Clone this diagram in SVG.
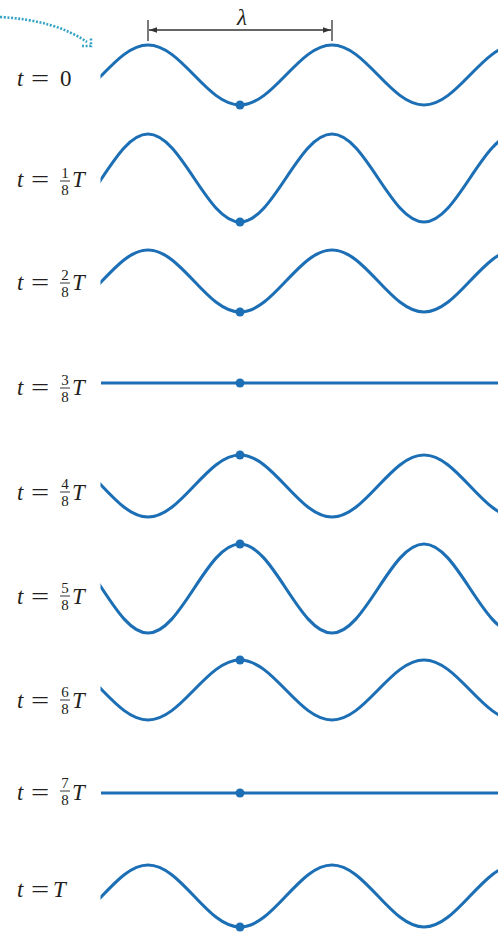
<svg xmlns="http://www.w3.org/2000/svg" width="498" height="933" viewBox="0 0 498 933">
<style>
.w{fill:none;stroke:#1c6fb5;stroke-width:3.1;stroke-linejoin:round}
.d{fill:#1c6fb5}
.lab{font-family:"Liberation Serif","DejaVu Serif",serif;font-size:23px;fill:#231f20}
.it{font-style:italic}
.eq{font-family:"Liberation Serif","DejaVu Serif",serif;font-size:23px;fill:#231f20}
.fr{font-family:"Liberation Serif","DejaVu Serif",serif;font-size:15px;fill:#231f20;text-anchor:middle}
.bar{stroke:#231f20;stroke-width:0.9}
.dim{stroke:#333;stroke-width:1.3;fill:none}
</style>
<defs>
<clipPath id="cw"><rect x="100.5" y="0" width="400" height="933"/></clipPath>
<marker id="ah" viewBox="0 0 10 10" refX="10" refY="5" markerWidth="8" markerHeight="8" orient="auto-start-reverse" markerUnits="userSpaceOnUse"><path d="M0,1.5 L10,5 L0,8.5 z" fill="#333"/></marker>
</defs>

<g id="arrow-in">
<path d="M0,17 Q55,20 87,42" fill="none" stroke="#35a3c4" stroke-width="2.6" stroke-dasharray="2 1.6"/>
<polyline points="82,46 91,46 91,37" fill="none" stroke="#35a3c4" stroke-width="2.6" stroke-dasharray="2 1.6"/>
</g>

<g id="lambda">
<line class="dim" x1="148" y1="20" x2="148" y2="41"/>
<line class="dim" x1="332" y1="20" x2="332" y2="41"/>
<line class="dim" x1="149" y1="30" x2="331" y2="30" marker-start="url(#ah)" marker-end="url(#ah)"/>
<text x="242" y="25" class="lab it" text-anchor="middle" font-size="22">λ</text>
</g>

<g id="waves" clip-path="url(#cw)">
<g id="w0"><path class="w" d="M56,105 C89.4,105 114.6,45 148,45 S206.6,105 240,105 S298.6,45 332,45 S390.6,105 424,105 S482.6,45 516,45"/></g>
<g id="w1"><path class="w" d="M56,222 C89.4,222 114.6,134 148,134 S206.6,222 240,222 S298.6,134 332,134 S390.6,222 424,222 S482.6,134 516,134"/></g>
<g id="w2"><path class="w" d="M56,312 C89.4,312 114.6,250 148,250 S206.6,312 240,312 S298.6,250 332,250 S390.6,312 424,312 S482.6,250 516,250"/></g>
<g id="w3"><line class="w" x1="101" y1="383" x2="498" y2="383"/></g>
<g id="w4"><path class="w" d="M56,455 C89.4,455 114.6,517 148,517 S206.6,455 240,455 S298.6,517 332,517 S390.6,455 424,455 S482.6,517 516,517"/></g>
<g id="w5"><path class="w" d="M56,544 C89.4,544 114.6,633 148,633 S206.6,544 240,544 S298.6,633 332,633 S390.6,544 424,544 S482.6,633 516,633"/></g>
<g id="w6"><path class="w" d="M56,660 C89.4,660 114.6,720 148,720 S206.6,660 240,660 S298.6,720 332,720 S390.6,660 424,660 S482.6,720 516,720"/></g>
<g id="w7"><line class="w" x1="101" y1="793" x2="498" y2="793"/></g>
<g id="w8"><path class="w" d="M56,927 C89.4,927 114.6,865 148,865 S206.6,927 240,927 S298.6,865 332,865 S390.6,927 424,927 S482.6,865 516,865"/></g>
</g>

<g id="dots">
<circle class="d" cx="240" cy="105" r="4.5"/>
<circle class="d" cx="240" cy="222" r="4.5"/>
<circle class="d" cx="240" cy="312" r="4.5"/>
<circle class="d" cx="240" cy="383" r="4.5"/>
<circle class="d" cx="240" cy="455" r="4.5"/>
<circle class="d" cx="240" cy="544" r="4.5"/>
<circle class="d" cx="240" cy="660" r="4.5"/>
<circle class="d" cx="240" cy="793" r="4.5"/>
<circle class="d" cx="240" cy="927" r="4.5"/>
</g>

<g id="label-0">
<text class="lab it" x="17" y="86">t</text>
<text class="eq" transform="translate(31,86) scale(1.4,1)">=</text>
<text class="lab" x="60" y="86">0</text>
</g>
<g id="label-1">
<text class="lab it" x="17" y="187">t</text>
<text class="eq" transform="translate(31,187) scale(1.4,1)">=</text>
<text class="fr" x="65" y="178">1</text><line class="bar" x1="60" y1="181" x2="70" y2="181"/><text class="fr" x="65" y="195">8</text>
<text class="lab it" x="72" y="187">T</text>
</g>
<g id="label-2">
<text class="lab it" x="17" y="290">t</text>
<text class="eq" transform="translate(31,290) scale(1.4,1)">=</text>
<text class="fr" x="65" y="280">2</text><line class="bar" x1="60" y1="283" x2="70" y2="283"/><text class="fr" x="65" y="297">8</text>
<text class="lab it" x="72" y="290">T</text>
</g>
<g id="label-3">
<text class="lab it" x="17" y="395">t</text>
<text class="eq" transform="translate(31,395) scale(1.4,1)">=</text>
<text class="fr" x="65" y="385">3</text><line class="bar" x1="60" y1="388" x2="70" y2="388"/><text class="fr" x="65" y="402">8</text>
<text class="lab it" x="72" y="395">T</text>
</g>
<g id="label-4">
<text class="lab it" x="17" y="500">t</text>
<text class="eq" transform="translate(31,500) scale(1.4,1)">=</text>
<text class="fr" x="65" y="489">4</text><line class="bar" x1="60" y1="492" x2="70" y2="492"/><text class="fr" x="65" y="506">8</text>
<text class="lab it" x="72" y="500">T</text>
</g>
<g id="label-5">
<text class="lab it" x="17" y="604">t</text>
<text class="eq" transform="translate(31,604) scale(1.4,1)">=</text>
<text class="fr" x="65" y="593">5</text><line class="bar" x1="60" y1="596" x2="70" y2="596"/><text class="fr" x="65" y="610">8</text>
<text class="lab it" x="72" y="604">T</text>
</g>
<g id="label-6">
<text class="lab it" x="17" y="708">t</text>
<text class="eq" transform="translate(31,708) scale(1.4,1)">=</text>
<text class="fr" x="65" y="697">6</text><line class="bar" x1="60" y1="700" x2="70" y2="700"/><text class="fr" x="65" y="714">8</text>
<text class="lab it" x="72" y="708">T</text>
</g>
<g id="label-7">
<text class="lab it" x="17" y="800">t</text>
<text class="eq" transform="translate(31,800) scale(1.4,1)">=</text>
<text class="fr" x="65" y="788">7</text><line class="bar" x1="60" y1="791" x2="70" y2="791"/><text class="fr" x="65" y="805">8</text>
<text class="lab it" x="72" y="800">T</text>
</g>
<g id="label-8">
<text class="lab it" x="17" y="897">t</text>
<text class="eq" transform="translate(31,897) scale(1.4,1)">=</text>
<text class="lab it" x="53" y="897">T</text>
</g>
</svg>
